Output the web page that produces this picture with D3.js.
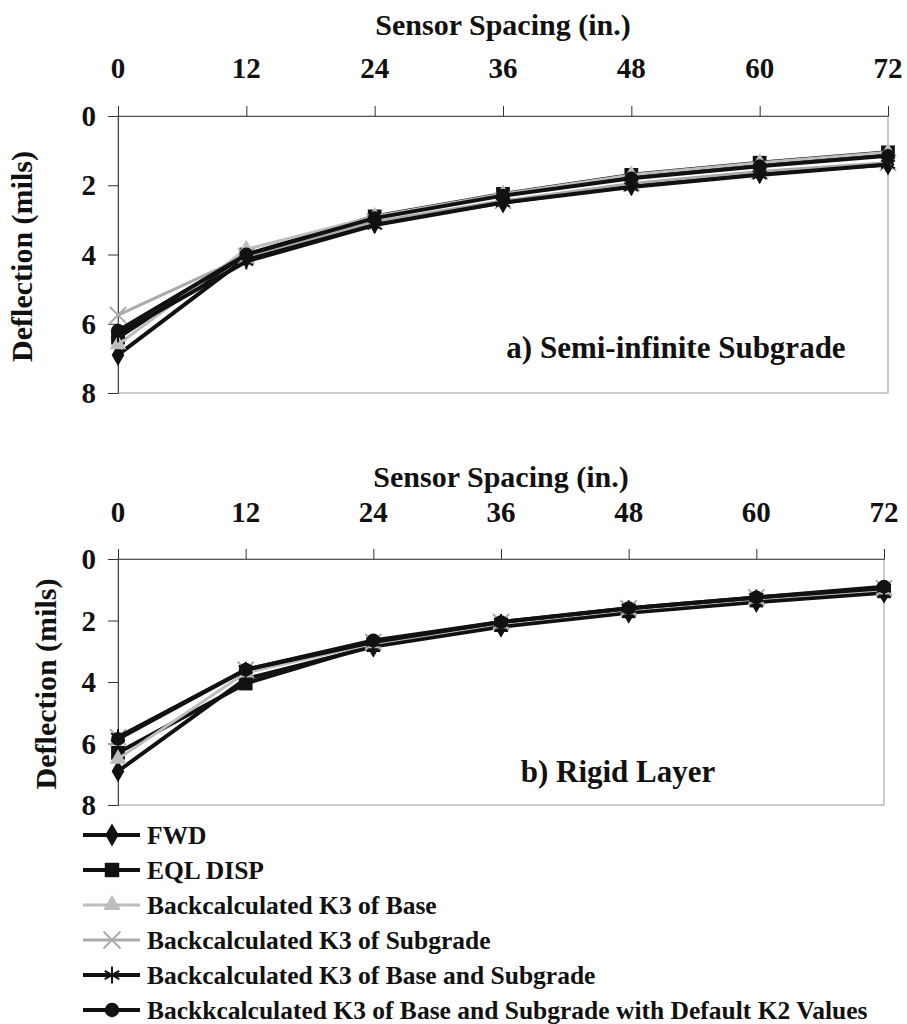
<!DOCTYPE html>
<html>
<head>
<meta charset="utf-8">
<script src="https://cdn.jsdelivr.net/npm/d3@7"></script>
<style>
  body { margin: 0; background: #fff; }
</style>
</head>
<body>
<svg id="chart" width="907" height="1024"></svg>
<script>
// Sensor spacing (in.) and tick labels
const spacing = [0, 12, 24, 36, 48, 60, 72];
const deflectionTicks = [0, 2, 4, 6, 8];

const seriesNames = [
  'FWD',
  'EQL DISP',
  'Backcalculated K3 of Base',
  'Backcalculated K3 of Subgrade',
  'Backcalculated K3 of Base and Subgrade',
  'Backkcalculated K3 of Base and Subgrade with Default K2 Values'
];

// a) Semi-infinite subgrade, deflections in mils
const semiFwd      = [6.9, 4.1, 3.1, 2.5, 2.0, 1.65, 1.4];
const semiEql      = [6.4, 4.0, 2.9, 2.25, 1.7, 1.35, 1.05];
const semiBase     = [6.6, 3.85, 2.9, 2.25, 1.7, 1.35, 1.05];
const semiSub      = [5.75, 4.05, 3.05, 2.45, 1.95, 1.6, 1.35];
const semiBaseSub  = [6.3, 4.2, 3.15, 2.5, 2.05, 1.7, 1.4];
const semiDefault  = [6.2, 4.0, 2.95, 2.3, 1.8, 1.45, 1.15];

// b) Rigid layer, deflections in mils
const rigidFwd     = [6.9, 3.9, 2.85, 2.2, 1.75, 1.4, 1.1];
const rigidEql     = [6.3, 4.05, 2.8, 2.15, 1.7, 1.35, 1.05];
const rigidBase    = [6.5, 3.7, 2.75, 2.1, 1.65, 1.3, 1.0];
const rigidSub     = [5.8, 3.6, 2.7, 2.05, 1.6, 1.25, 0.95];
const rigidBaseSub = [5.8, 3.6, 2.7, 2.05, 1.6, 1.25, 0.95];
const rigidDefault = [5.85, 3.6, 2.65, 2.05, 1.6, 1.25, 0.9];

// Series look (Excel style)
const styles = [
  { color: '#111', width: 4, symbol: d3.symbolDiamond, size: 140, stroke: false },
  { color: '#111', width: 4, symbol: d3.symbolSquare, size: 190, stroke: false },
  { color: '#bdbdbd', width: 3, symbol: d3.symbolTriangle, size: 120, stroke: false },
  { color: '#aaa', width: 3, symbol: d3.symbolX, size: 170, stroke: true },
  { color: '#111', width: 4, symbol: d3.symbolAsterisk, size: 180, stroke: true },
  { color: '#111', width: 4, symbol: d3.symbolCircle, size: 150, stroke: false }
];

const svg = d3.select('#chart');

function label(sel, size) {
  return sel.attr('font-family', "'Liberation Serif'")
    .attr('font-weight', 'bold')
    .attr('font-size', size)
    .attr('fill', '#111');
}

/*
 * Panels
 */
const panels = [
  {
    label: 'a) Semi-infinite Subgrade',
    series: [semiFwd, semiEql, semiBase, semiSub, semiBaseSub, semiDefault],
    xRange: [118, 888], yRange: [116, 393],
    titleY: 35, tickLabelY: 78, labelX: 676, labelY: 358, yTitleX: 32
  },
  {
    label: 'b) Rigid Layer',
    series: [rigidFwd, rigidEql, rigidBase, rigidSub, rigidBaseSub, rigidDefault],
    xRange: [118, 884], yRange: [559, 805],
    titleY: 487, tickLabelY: 522, labelX: 618, labelY: 782, yTitleX: 56
  }
];

panels.forEach((p) => {
  const x = d3.scaleLinear().domain([0, 72]).range(p.xRange);
  const y = d3.scaleLinear().domain([0, 8]).range(p.yRange);
  const g = svg.append('g');

  // plot area border (light)
  g.append('rect')
    .attr('x', p.xRange[0]).attr('y', p.yRange[0])
    .attr('width', p.xRange[1] - p.xRange[0])
    .attr('height', p.yRange[1] - p.yRange[0])
    .attr('fill', 'none').attr('stroke', '#999').attr('stroke-width', 1);

  // top axis
  const xAxis = g.append('g')
    .attr('transform', 'translate(0,' + p.yRange[0] + ')')
    .call(d3.axisTop(x).tickValues(spacing).tickSize(10).tickFormat(''));
  xAxis.select('.domain').attr('stroke', '#555');
  xAxis.selectAll('.tick line').attr('stroke', '#333');

  g.selectAll('.xlab')
    .data(spacing)
    .enter().append('text')
    .attr('x', (d) => x(d))
    .attr('y', p.tickLabelY)
    .attr('text-anchor', 'middle')
    .call(label, 29)
    .text((d) => d);

  g.append('text')
    .attr('x', (p.xRange[0] + p.xRange[1]) / 2)
    .attr('y', p.titleY)
    .attr('text-anchor', 'middle')
    .call(label, 30)
    .text('Sensor Spacing (in.)');

  // left axis
  const yAxis = g.append('g')
    .attr('transform', 'translate(' + p.xRange[0] + ',0)')
    .call(d3.axisLeft(y).tickValues(deflectionTicks).tickSize(10).tickFormat(''));
  yAxis.select('.domain').attr('stroke', '#444');
  yAxis.selectAll('.tick line').attr('stroke', '#333');

  g.selectAll('.ylab')
    .data(deflectionTicks)
    .enter().append('text')
    .attr('x', 96)
    .attr('y', (d) => y(d) + 10)
    .attr('text-anchor', 'end')
    .call(label, 29)
    .text((d) => d);

  g.append('text')
    .attr('transform', 'translate(' + p.yTitleX + ',' + ((p.yRange[0] + p.yRange[1]) / 2 + 2) + ') rotate(-90)')
    .attr('text-anchor', 'middle')
    .call(label, 30)
    .text('Deflection (mils)');

  // lines and markers
  const line = d3.line()
    .x((d, i) => x(spacing[i]))
    .y((d) => y(d));

  p.series.forEach((vals, k) => {
    const s = styles[k];
    g.append('path')
      .datum(vals)
      .attr('d', line)
      .attr('fill', 'none')
      .attr('stroke', s.color)
      .attr('stroke-width', s.width)
      .attr('stroke-linejoin', 'round');

    g.selectAll('.m' + k)
      .data(vals)
      .enter().append('path')
      .attr('transform', (d, i) => 'translate(' + x(spacing[i]) + ',' + y(d) + ')')
      .attr('d', d3.symbol().type(s.symbol).size(s.size))
      .attr('fill', s.stroke ? 'none' : s.color)
      .attr('stroke', s.stroke ? s.color : 'none')
      .attr('stroke-width', s.stroke ? 2 : 0);
  });

  g.append('text')
    .attr('x', p.labelX)
    .attr('y', p.labelY)
    .attr('text-anchor', 'middle')
    .call(label, 31)
    .text(p.label);
});

/*
 * Legend
 */
const legend = svg.append('g');
seriesNames.forEach((name, k) => {
  const s = styles[k];
  const cy = 835 + k * 35;
  legend.append('line')
    .attr('x1', 83).attr('x2', 140)
    .attr('y1', cy).attr('y2', cy)
    .attr('stroke', s.color).attr('stroke-width', s.width);
  legend.append('path')
    .attr('transform', 'translate(112,' + cy + ')')
    .attr('d', d3.symbol().type(s.symbol).size(s.size * 1.1))
    .attr('fill', s.stroke ? 'none' : s.color)
    .attr('stroke', s.stroke ? s.color : 'none')
    .attr('stroke-width', s.stroke ? 2 : 0);
  legend.append('text')
    .attr('x', 147)
    .attr('y', cy + 9)
    .call(label, 25.5)
    .text(name);
});
</script>
</body>
</html>
